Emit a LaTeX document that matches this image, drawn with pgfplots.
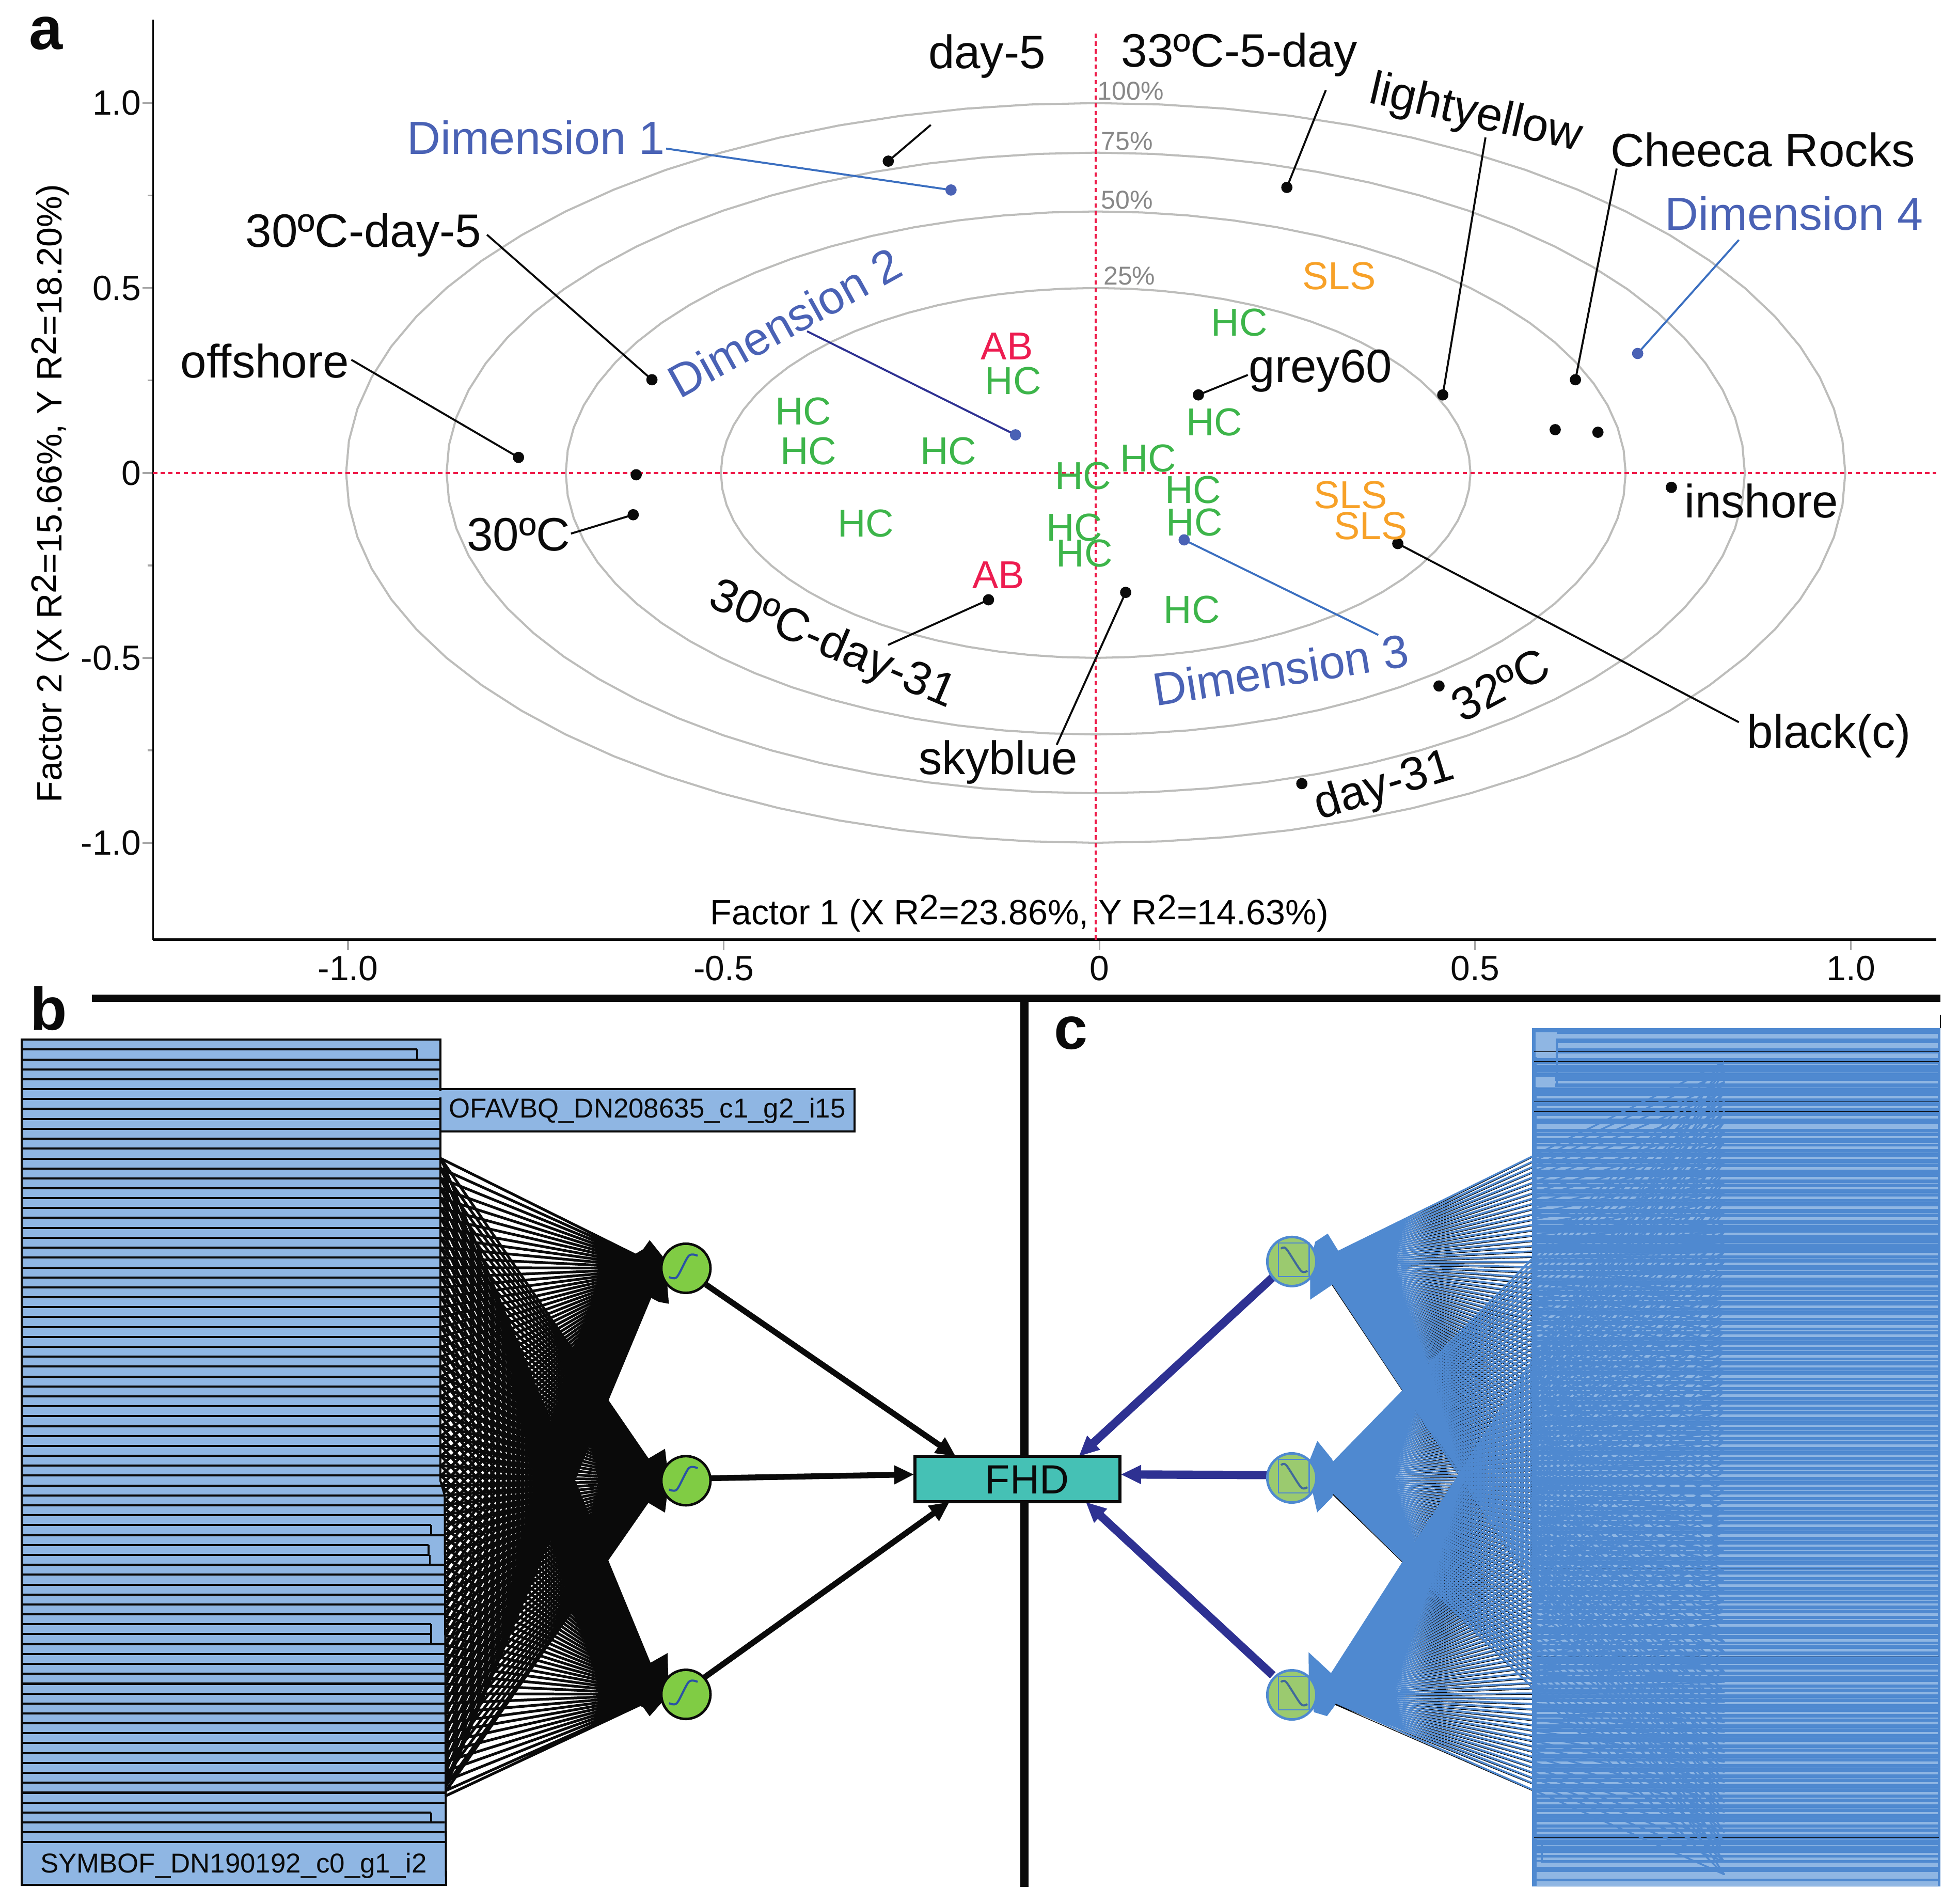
\documentclass[border=0pt]{standalone}
\usepackage{pgfplots}
\usepackage{pgfplotstable}
\usepackage{fontspec}
\setmainfont{Liberation Sans}
\pgfplotsset{compat=1.18}
\usetikzlibrary{arrows.meta}

\definecolor{ring}{HTML}{BDBDBB}
\definecolor{redl}{HTML}{EE1C4A}
\definecolor{dimblue}{HTML}{4A62B5}
\definecolor{leadblue}{HTML}{3B6FC0}
\definecolor{navy}{HTML}{2E3192}
\definecolor{hcgreen}{HTML}{3DB54A}
\definecolor{abred}{HTML}{ED1C50}
\definecolor{slsor}{HTML}{F7A128}
\definecolor{pctgray}{HTML}{888888}
\definecolor{tickgray}{HTML}{A6A6A6}
\definecolor{ink}{HTML}{0A0A0A}
\definecolor{pale}{HTML}{8FB6E3}
\definecolor{dark}{HTML}{4F89D0}
\definecolor{fhdfill}{HTML}{45C1B5}
\definecolor{nodeg}{HTML}{80CC44}
\definecolor{nodec}{HTML}{9BCA6F}
\definecolor{sigm}{HTML}{2A52A5}

% unit ring, scaled for each level
\pgfplotstableread{
x y
1.0000 0.0000
0.9962 0.0872
0.9848 0.1736
0.9659 0.2588
0.9397 0.3420
0.9063 0.4226
0.8660 0.5000
0.8192 0.5736
0.7660 0.6428
0.7071 0.7071
0.6428 0.7660
0.5736 0.8192
0.5000 0.8660
0.4226 0.9063
0.3420 0.9397
0.2588 0.9659
0.1736 0.9848
0.0872 0.9962
0.0000 1.0000
-0.0872 0.9962
-0.1736 0.9848
-0.2588 0.9659
-0.3420 0.9397
-0.4226 0.9063
-0.5000 0.8660
-0.5736 0.8192
-0.6428 0.7660
-0.7071 0.7071
-0.7660 0.6428
-0.8192 0.5736
-0.8660 0.5000
-0.9063 0.4226
-0.9397 0.3420
-0.9659 0.2588
-0.9848 0.1736
-0.9962 0.0872
-1.0000 0.0000
-0.9962 -0.0872
-0.9848 -0.1736
-0.9659 -0.2588
-0.9397 -0.3420
-0.9063 -0.4226
-0.8660 -0.5000
-0.8192 -0.5736
-0.7660 -0.6428
-0.7071 -0.7071
-0.6428 -0.7660
-0.5736 -0.8192
-0.5000 -0.8660
-0.4226 -0.9063
-0.3420 -0.9397
-0.2588 -0.9659
-0.1736 -0.9848
-0.0872 -0.9962
0.0000 -1.0000
0.0872 -0.9962
0.1736 -0.9848
0.2588 -0.9659
0.3420 -0.9397
0.4226 -0.9063
0.5000 -0.8660
0.5736 -0.8192
0.6428 -0.7660
0.7071 -0.7071
0.7660 -0.6428
0.8192 -0.5736
0.8660 -0.5000
0.9063 -0.4226
0.9397 -0.3420
0.9659 -0.2588
0.9848 -0.1736
0.9962 -0.0872
1.0000 0.0000
}\ringtable

% panel b rows, y / right end
\def\rowsB{832/352.5,839.9/334,847.9/352.5,855.8/352.5,863.7/351,871.7/684,879.6/352.5,887.5/352.5,895.4/352.5,903.4/352.5,911.3/352.5,919.2/352.5,927.2/352.5,935.1/352.5,943/352.5,951/352.5,958.9/352.5,966.8/352.5,974.7/352.5,982.7/352.5,990.6/352.5,998.5/352.5,1006.5/352.5,1014.4/352.5,1022.3/352.5,1030.3/352.5,1038.2/352.5,1046.1/352.5,1054/352.5,1062/352.5,1069.9/352.5,1077.8/352.5,1085.8/352.5,1093.7/352.5,1101.6/352.5,1109.6/352.5,1117.5/352.5,1125.4/352.5,1133.3/352.5,1141.3/352.5,1149.2/352.5,1157.1/352.5,1165.1/352.5,1173/352.5,1180.9/352.5,1188.9/354,1196.8/356,1204.7/356,1212.6/356,1220.6/345,1228.5/356,1236.4/343,1244.4/344,1252.3/356,1260.2/356,1268.2/356,1276.1/356,1284/356,1291.9/356,1299.9/345,1307.8/345,1315.7/356,1323.7/356,1331.6/356,1339.5/356,1347.5/356,1355.4/356,1363.3/356,1371.2/356,1379.2/356,1387.1/356,1395/356,1403/356,1410.9/356,1418.8/356,1426.8/356,1434.7/356,1442.6/356,1450.5/345,1458.5/356,1466.4/356,1474.3/357}
% rows of panel b that send lines to the nodes
\def\rowsBfan{927.2,935.1,943,951,958.9,966.8,974.7,982.7,990.6,998.5,1006.5,1014.4,1022.3,1030.3,1038.2,1046.1,1054,1062,1069.9,1077.8,1085.8,1093.7,1101.6,1109.6,1117.5,1125.4,1133.3,1141.3,1149.2,1157.1,1165.1,1173,1180.9,1188.9,1196.8,1204.7,1212.6,1220.6,1228.5,1236.4,1244.4,1252.3,1260.2,1268.2,1276.1,1284,1291.9,1299.9,1307.8,1315.7,1323.7,1331.6,1339.5,1347.5,1355.4,1363.3,1371.2,1379.2,1387.1,1395,1403,1410.9,1418.8,1426.8,1434.7,1439}
% far ends of the panel c lines
\def\rowsCfan{850,858,866,874,882,890,898,906,914,922,930,938,946,954,962,970,978,986,994,1002,1010,1018,1026,1034,1042,1050,1058,1066,1074,1082,1090,1098,1106,1114,1122,1130,1138,1146,1154,1162,1170,1178,1186,1194,1202,1210,1218,1226,1234,1242,1250,1258,1266,1274,1282,1290,1298,1306,1314,1322,1330,1338,1346,1354,1362,1370,1378,1386,1394,1402,1410,1418,1426,1434,1442,1450,1458,1466,1474,1482,1490,1500}
% pale stripes of panel c
\def\stripeWide{829.5,837,845,901.6,1492,1507.5}
\def\stripeMed{866,878,886,894,910,918.5,926.6,935,943,951,958.5,966.5,975,987.6,1003.6,1011.5,1021.3,1029.5,1037.3,1045.7,1053.6,1061.5,1069,1077,1085.6,1093.6,1101.5,1109,1117,1125,1133,1141,1149,1157,1165,1173,1181,1189,1197,1205,1213,1221,1229,1237,1245,1253,1261,1269,1277,1284,1292,1300.9,1312.9,1320.7,1337,1347,1355,1363,1370.8,1379,1387,1395,1403,1410.7,1419,1427,1435,1443,1451,1459,1467,1483.7,1487.6}
\def\stripeThin{852,858.5,870.7,906.5,915,922.6,931,947,955,962,971,980,995,1007,1017,1025,1033,1041,1049,1057,1065,1073,1081,1089,1097,1105,1113,1121,1129,1137,1145,1153,1161,1169,1177,1185,1193,1201,1209,1217,1225,1233,1241,1249,1257,1265,1273,1281,1288,1296,1308,1316,1325,1332,1341,1351,1359,1367,1375,1383,1391,1399,1407,1415,1423,1431,1439,1447,1455,1463,1472,1477}
\def\stripeBlack{841.7,849.5,881.8,889.7,1255,1326,1470.5}

\newcommand\makefan[5]{\gdef#1{}\foreach \y in #2 {\xdef#1{#1 (#3,\y)(#4,#5)}}}
\newcommand\makestripes[4]{\gdef#1{}\foreach \y in #2 {\xdef#1{#1 (#3,\y)(#4,\y)(nan,nan)}}}
\newcommand\plotlist[2]{\edef\tmpplot{\noexpand\addplot[#1] coordinates {#2};}\tmpplot}
\newcommand\lab[6]{\node[anchor=center,inner sep=0pt,rotate=#3,text=#4,font=\fontsize{#5}{#5}\selectfont] at (#1,#2) {#6};}
\newcommand\Rtwo{R\raisebox{.3ex}{2}}

% all the lists are built here, in the preamble, so no stray spaces reach the page
\gdef\rowsBpath{}
\foreach \y/\x in \rowsB {\xdef\rowsBpath{\rowsBpath (17.4,\y)(\x,\y)(nan,nan)}}
\makefan\fanBa\rowsBfan{353}{530}{1015}
\makefan\fanBb\rowsBfan{353}{530}{1185}
\makefan\fanBc\rowsBfan{353}{530}{1356}
\makefan\fanCa\rowsCfan{1380}{1055}{1009.6}
\makefan\fanCb\rowsCfan{1380}{1055}{1182.8}
\makefan\fanCc\rowsCfan{1380}{1055}{1356.4}
\makefan\fanKa\rowsCfan{1380}{1055}{1011.4}
\makefan\fanKb\rowsCfan{1380}{1055}{1184.6}
\makefan\fanKc\rowsCfan{1380}{1055}{1358.2}
\makestripes\pathWide\stripeWide{1230}{1551}
\makestripes\pathMed\stripeMed{1230}{1551}
\makestripes\pathThin\stripeThin{1230}{1551}
\makestripes\pathBlack\stripeBlack{1228}{1552}

\begin{document}
\begin{tikzpicture}
\path[use as bounding box] (0,0) rectangle (940.8pt,914.04pt);

% panel a
\begin{axis}[
  at={(73.44pt,462.84pt)}, anchor=south west, scale only axis,
  width=856.56pt, height=441.78pt,
  xmin=-1.2577, xmax=1.1217, ymin=-1.2618, ymax=1.2257,
  axis lines=left,
  x axis line style={-,line width=1.05pt,color=ink},
  y axis line style={-,line width=.8pt,color=ink},
  tick align=outside,
  tick style={color=tickgray,line width=.85pt},
  major tick length=5.1pt, minor tick length=2.6pt,
  xtick={-0.9975,-0.4962,0.005,0.5063,1.0075}, xticklabels={-1.0,-0.5,0,0.5,1.0},
  ytick={-1,-0.5,0,0.5,1}, yticklabels={-1.0,-0.5,0,0.5,1.0},
  minor tick num=1,
  tick label style={font=\fontsize{16.8}{17}\selectfont,color=ink},
  xticklabel style={yshift=.8pt},
  yticklabel style={xshift=3pt},
  xlabel={Factor 1 (X \Rtwo=23.86\%, Y \Rtwo=14.63\%)},
  ylabel={Factor 2 (X \Rtwo=15.66\%, Y \Rtwo=18.20\%)},
  xlabel style={at={(axis description cs:0.4858,0.0285)},anchor=center,inner sep=0pt,font=\fontsize{16.9}{17}\selectfont},
  ylabel style={at={(axis description cs:-0.0577,0.4849)},anchor=center,inner sep=0pt,font=\fontsize{16.9}{17}\selectfont},
  unbounded coords=jump,
]
\addplot[ring,line width=1pt] table[x expr=\thisrow{x},y expr=\thisrow{y}] {\ringtable};
\addplot[ring,line width=1pt] table[x expr=\thisrow{x}*0.866,y expr=\thisrow{y}*0.866] {\ringtable};
\addplot[ring,line width=1pt] table[x expr=\thisrow{x}*0.707,y expr=\thisrow{y}*0.707] {\ringtable};
\addplot[ring,line width=1pt] table[x expr=\thisrow{x}*0.5,y expr=\thisrow{y}*0.5] {\ringtable};
\addplot[redl,line width=1.1pt,dash pattern=on 2.1pt off 1.6pt] coordinates {(-1.2577,0)(1.1217,0)};
\addplot[redl,line width=1.1pt,dash pattern=on 2.1pt off 1.6pt] coordinates {(0,-1.2618)(0,1.19)};
% leader lines
\addplot[ink,line width=.95pt] coordinates {
 (-0.2767,0.843)(-0.22,0.941)(nan,nan)
 (0.255,0.772)(0.307,1.035)(nan,nan)
 (-0.592,0.252)(-0.812,0.644)(nan,nan)
 (-0.77,0.042)(-0.993,0.306)(nan,nan)
 (-0.617,-0.113)(-0.7,-0.164)(nan,nan)
 (-0.143,-0.343)(-0.277,-0.465)(nan,nan)
 (0.04,-0.323)(-0.052,-0.735)(nan,nan)
 (0.137,0.211)(0.203,0.265)(nan,nan)
 (0.463,0.211)(0.52,0.907)(nan,nan)
 (0.64,0.252)(0.695,0.823)(nan,nan)
 (0.403,-0.191)(0.858,-0.674)
};
\addplot[leadblue,line width=.95pt] coordinates {
 (-0.193,0.765)(-0.573,0.877)(nan,nan)
 (0.723,0.323)(0.858,0.63)(nan,nan)
 (0.118,-0.181)(0.377,-0.438)
};
\addplot[navy,line width=.95pt] coordinates {(-0.107,0.103)(-0.385,0.383)};
% points
\addplot[only marks,mark=*,mark size=2.5pt,mark options={fill=ink,draw=ink}] coordinates {
 (-0.2767,0.843)(0.255,0.772)(-0.592,0.252)(-0.77,0.042)(-0.613,-0.005)(-0.617,-0.113)
 (-0.143,-0.343)(0.04,-0.323)(0.137,0.211)(0.463,0.211)(0.64,0.252)(0.613,0.117)
 (0.67,0.11)(0.768,-0.039)(0.403,-0.191)(0.458,-0.576)(0.275,-0.84)};
\addplot[only marks,mark=*,mark size=2.5pt,mark options={fill=dimblue,draw=dimblue}] coordinates {
 (-0.193,0.765)(-0.107,0.103)(0.118,-0.181)(0.723,0.323)};
\end{axis}

% everything below the plot, and the labels, in image pixels
\begin{axis}[
  at={(0pt,0pt)}, anchor=south west, scale only axis,
  width=940.8pt, height=914.04pt,
  xmin=0, xmax=1568, ymin=0, ymax=1523.4, y dir=reverse,
  hide axis, clip=false, clip mode=individual, unbounded coords=jump,
]
% panel a labels
\lab{790}{45}{0}{ink}{22.5}{day-5}
\lab{992}{44}{0}{ink}{22.5}{33ºC-5-day}
\lab{1181}{92}{-13}{ink}{22.5}{lightyellow}
\lab{1411}{120}{0}{ink}{22.5}{Cheeca Rocks}
\lab{1436}{171}{0}{dimblue}{22.3}{Dimension 4}
\lab{429}{110}{0}{dimblue}{22.3}{Dimension 1}
\lab{628}{258}{29}{dimblue}{22.3}{Dimension 2}
\lab{1025}{536}{9}{dimblue}{22.3}{Dimension 3}
\lab{291}{188}{0}{ink}{22.5}{30ºC-day-5}
\lab{212}{289}{0}{ink}{22.5}{offshore}
\lab{415}{428}{0}{ink}{22.5}{30ºC}
\lab{666}{517}{-23}{ink}{22.5}{30ºC-day-31}
\lab{799}{610}{0}{ink}{22.5}{skyblue}
\lab{1057}{297}{0}{ink}{22.5}{grey60}
\lab{1410}{401}{0}{ink}{22.5}{inshore}
\lab{1201}{548}{28}{ink}{22.5}{32ºC}
\lab{1108}{630}{17}{ink}{22.5}{day-31}
\lab{1464}{589}{0}{ink}{22.5}{black(c)}
\lab{992}{258}{0}{hcgreen}{18.7}{HC}
\lab{811}{305}{0}{hcgreen}{18.7}{HC}
\lab{643}{329}{0}{hcgreen}{18.7}{HC}
\lab{647}{361}{0}{hcgreen}{18.7}{HC}
\lab{759}{361}{0}{hcgreen}{18.7}{HC}
\lab{919}{367}{0}{hcgreen}{18.7}{HC}
\lab{867}{381}{0}{hcgreen}{18.7}{HC}
\lab{955}{392}{0}{hcgreen}{18.7}{HC}
\lab{956}{418}{0}{hcgreen}{18.7}{HC}
\lab{693}{419}{0}{hcgreen}{18.7}{HC}
\lab{860}{422}{0}{hcgreen}{18.7}{HC}
\lab{868}{443}{0}{hcgreen}{18.7}{HC}
\lab{972}{338}{0}{hcgreen}{18.7}{HC}
\lab{954}{488}{0}{hcgreen}{18.7}{HC}
\lab{806}{277}{0}{abred}{18.7}{AB}
\lab{799}{460}{0}{abred}{18.7}{AB}
\lab{1072}{221}{0}{slsor}{18.7}{SLS}
\lab{1081}{396}{0}{slsor}{18.7}{SLS}
\lab{1097}{421}{0}{slsor}{18.7}{SLS}
\lab{905}{73}{0}{pctgray}{12.4}{100\%}
\lab{902}{113}{0}{pctgray}{12.4}{75\%}
\lab{902}{160}{0}{pctgray}{12.4}{50\%}
\lab{904}{221}{0}{pctgray}{12.4}{25\%}
\lab{37}{26.5}{0}{ink}{29}{\textbf{a}}
\lab{39}{807}{0}{ink}{29}{\textbf{b}}
\lab{857}{827}{0}{ink}{29}{\textbf{c}}

% dividers
\addplot[ink,line width=3.3pt] coordinates {(73.7,798.8)(1553,798.8)};
\addplot[ink,line width=4pt] coordinates {(820,798.8)(820,1510)};

% panel b
\plotlist{ink,line width=1.3pt,line join=round}{\fanBa}
\plotlist{ink,line width=1.3pt,line join=round}{\fanBb}
\plotlist{ink,line width=1.3pt,line join=round}{\fanBc}
\addplot[ink,fill=ink] coordinates {(515,1000)(520,993)(532,1008)(535,1043)(527.5,1041.6)(505,1030)(490,1015)} --cycle;
\addplot[ink,fill=ink] coordinates {(515,1170)(532,1160)(535,1185)(532,1210)(515,1200)(490,1185)} --cycle;
\addplot[ink,fill=ink] coordinates {(505,1340)(534,1323.5)(535,1356)(520,1373)(515,1366)(490,1356)} --cycle;
\addplot[draw=ink,fill=pale,line width=1pt] coordinates {(352.5,871.7)(684,871.7)(684,905.5)(352.5,905.5)} --cycle;
\addplot[draw=ink,fill=pale,line width=1pt] coordinates {(17.4,832)(352.5,832)(352.5,1185)(356,1197)(357,1508.5)(17.4,1508.5)} --cycle;
\plotlist{ink,line width=1pt}{\rowsBpath}
\addplot[ink,line width=.9pt] coordinates {(334,839.9)(334,847.9)(nan,nan)(345,1220.6)(345,1228.5)(nan,nan)(343,1236.4)(343,1244.4)(nan,nan)(344,1244.4)(344,1252.3)(nan,nan)(345,1299.9)(345,1315.7)(nan,nan)(345,1450.5)(345,1458.5)};
\addplot[pale,line width=2pt] coordinates {(352.5,873.2)(352.5,878.2)};
\lab{518}{889}{0}{ink}{13.1}{OFAVBQ\_DN208635\_c1\_g2\_i15}
\lab{187}{1493}{0}{ink}{13.1}{SYMBOF\_DN190192\_c0\_g1\_i2}

% arrows to FHD
\addplot[ink,line width=2.8pt,-{Triangle[length=9.5pt,width=8.5pt]}] coordinates {(565,1028)(765,1165.5)};
\addplot[ink,line width=2.8pt,-{Triangle[length=9.5pt,width=8.5pt]}] coordinates {(569,1183)(731.6,1180)};
\addplot[ink,line width=2.8pt,-{Triangle[length=9.5pt,width=8.5pt]}] coordinates {(563,1343)(760,1202)};
\addplot[navy,line width=4pt,-{Triangle[length=9.8pt,width=8.5pt]}] coordinates {(1019.6,1021.4)(863.4,1165.6)};
\addplot[navy,line width=4pt,-{Triangle[length=9.8pt,width=8.5pt]}] coordinates {(1014,1180.5)(897,1180)};
\addplot[navy,line width=4pt,-{Triangle[length=9.8pt,width=8.5pt]}] coordinates {(1018.7,1340.7)(869,1202)};
\addplot[draw=ink,fill=fhdfill,line width=1.4pt] coordinates {(732.4,1165.6)(896.5,1165.6)(896.5,1201.7)(732.4,1201.7)} --cycle;
\lab{822}{1184}{0}{ink}{19.6}{FHD}

% panel b nodes
\addplot[only marks,mark=*,mark size=11.8pt,mark options={fill=nodeg,draw=ink,line width=1.2pt}] coordinates {(549,1015)(549,1185)(549,1356)};
\addplot[sigm,line width=1pt,smooth] coordinates {(535.5,1022)(541.8,1022)(551.3,1005)(558.4,1005)};
\addplot[sigm,line width=1pt,smooth] coordinates {(535.5,1192)(541.8,1192)(551.3,1175)(558.4,1175)};
\addplot[sigm,line width=1pt,smooth] coordinates {(535.5,1363)(541.8,1363)(551.3,1346)(558.4,1346)};

% panel c
\plotlist{ink,line width=.35pt,line join=round}{\fanKa}
\plotlist{ink,line width=.35pt,line join=round}{\fanKb}
\plotlist{ink,line width=.35pt,line join=round}{\fanKc}
\addplot[ink,line width=.5pt] coordinates {(1553,812)(1553,823)};
\addplot[draw=none,fill=dark] coordinates {(1226,823)(1553,823)(1553,1509.6)(1226,1509.6)} --cycle;
\plotlist{pale,line width=2.4pt}{\pathWide}
\plotlist{pale,line width=1.15pt}{\pathMed}
\plotlist{pale,line width=.3pt}{\pathThin}
\addplot[pale,line width=3.2pt] coordinates {(1230,1501)(1551,1501)};
\addplot[draw=none,fill=pale] coordinates {(1229,826)(1246,826)(1246,846)(1229,846)} --cycle;
\addplot[draw=none,fill=pale] coordinates {(1229,862)(1245,862)(1245,870)(1229,870)} --cycle;
\plotlist{ink,line width=.3pt}{\pathBlack}
\addplot[dark,line width=1pt] coordinates {(1553,832)(1246,832)(1246,868)(1553,868)};
\addplot[dark,line width=1pt] coordinates {(1234,1475)(1234,1490)(1553,1490)};
\plotlist{dark,line width=.85pt,line join=round}{\fanCa}
\plotlist{dark,line width=.85pt,line join=round}{\fanCb}
\plotlist{dark,line width=.85pt,line join=round}{\fanCc}
\addplot[dark,fill=dark] coordinates {(1062.6,987.7)(1072,1003)(1075,1015)(1066,1028)(1049,1039.5)(1049,1010)(1053,994)} --cycle;
\addplot[dark,fill=dark] coordinates {(1054.5,1153.8)(1066,1168)(1070,1182)(1066,1198)(1054.5,1209.7)(1050,1190)(1048,1170)} --cycle;
\addplot[dark,fill=dark] coordinates {(1047.7,1323)(1066,1340)(1072,1356)(1068,1365)(1062,1373)(1052,1370)(1048,1350)} --cycle;
\addplot[only marks,mark=*,mark size=11.8pt,mark options={fill=nodec,draw=dark,line width=1.2pt}] coordinates {(1034,1009.6)(1034,1182.8)(1034,1356.4)};
\addplot[dark,line width=.6pt] coordinates {(1023.4,994.8)(1047.8,994.8)(1047.8,1021.6)(1023.4,1021.6)} --cycle;
\addplot[dark,line width=.6pt] coordinates {(1023.4,1168)(1047.8,1168)(1047.8,1194.8)(1023.4,1194.8)} --cycle;
\addplot[dark,line width=.6pt] coordinates {(1023.4,1341.6)(1047.8,1341.6)(1047.8,1368.4)(1023.4,1368.4)} --cycle;
\addplot[sigm,opacity=.8,line width=1pt,smooth] coordinates {(1025.4,999.4)(1029.5,999.4)(1041.3,1017)(1046.4,1017)};
\addplot[sigm,opacity=.8,line width=1pt,smooth] coordinates {(1025.4,1172.6)(1029.5,1172.6)(1041.3,1190.2)(1046.4,1190.2)};
\addplot[sigm,opacity=.8,line width=1pt,smooth] coordinates {(1025.4,1346.2)(1029.5,1346.2)(1041.3,1363.8)(1046.4,1363.8)};
\end{axis}
\end{tikzpicture}
\end{document}
